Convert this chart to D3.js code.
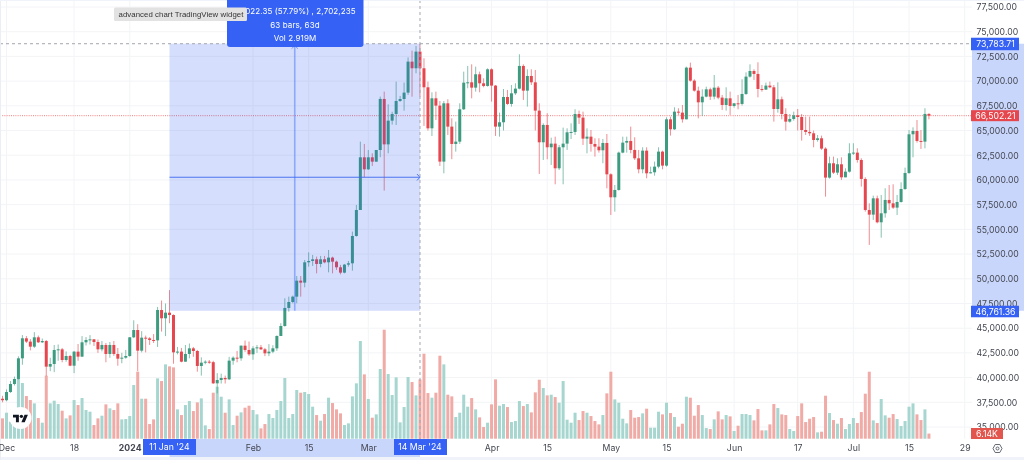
<!DOCTYPE html>
<html><head><meta charset="utf-8">
<script src="https://cdn.jsdelivr.net/npm/d3@7"></script>
<style>html,body{margin:0;padding:0;background:#fff;overflow:hidden}svg{display:block;filter:blur(.35px)}text{font-family:Inter,Roboto,sans-serif}</style>
</head><body><svg id="c" width="1024" height="460"></svg>
<script>
// Daily candles, 30 Nov 2023 onward
const firstDay = Date.UTC(2023, 10, 30);
const opens = [37860,37710,38540,39350,39860,41950,43975,43640,43130,44075,43570,43700,41105,41375,42795,42860,41780,42185,41205,42625,42120,43570,43805,43870,43600,42860,43300,42390,43300,42390,41915,42015,42185,44075,44815,42725,44040,43970,43805,43770,46840,46000,46570,46330,42555,42630,41610,42390,42960,42690,41175,41510,41610,41560,39420,39755,39960,39825,41715,42015,41950,43230,42795,42355,42960,43060,42860,42455,42625,42960,44210,45220,47045,47650,48190,49810,49610,51665,51800,51970,51500,51970,51665,52140,51730,51160,50620,51430,51565,54330,56960,62290,61075,62290,61850,63030,68195,63600,66000,66675,67990,68190,68835,71970,71300,72985,71300,69375,65225,68260,67520,61855,67755,65395,63640,63875,67150,69845,69880,69340,70690,69780,69510,71195,69545,65395,65835,68395,67690,68765,69240,71535,69035,70520,69880,67015,63810,65565,63305,63675,61180,63305,63675,64820,64855,66675,66305,64180,64380,63640,63370,63000,63740,60570,58245,58985,62765,63775,63945,63035,62190,61075,62965,60670,60775,61345,62865,61450,66135,65125,66910,66810,66135,71365,70050,69035,67855,68430,69170,68430,69340,68330,67585,68260,67485,67755,67690,68700,70455,71025,70725,69205,69140,69545,69375,67180,68160,66675,65900,66170,66540,66370,65055,64855,64720,64045,64215,63170,60235,61685,60740,61585,60265,60840,62695,62765,62020,60100,56960,56490,58140,55715,56625,57975,57635,57200,57770,59085,60705,64620,64955,63945,63875,66680];
const highs = [38150,38800,39650,40100,42150,44300,44200,43900,44600,44250,43950,43800,42000,43300,43350,43000,42650,42300,42700,43400,44200,44100,44300,43900,43850,43700,43500,43600,43700,43000,42500,42800,44100,45800,45400,44700,44250,44100,44400,47150,47800,47500,48850,46400,43100,43000,43300,43450,43100,42800,42050,41750,41780,41700,40450,40400,40200,42100,42150,42700,43250,43750,43650,43180,43300,43300,43000,43380,43270,44270,45500,48020,48190,48300,50280,50280,51900,52675,52410,52240,52310,52310,52915,52240,51835,51400,51500,51800,54770,57465,63875,63640,63030,62695,63030,68430,68936,67650,66900,69950,68500,69850,72400,73085,73560,73783,72310,69950,68870,68935,67990,67990,68160,66240,65900,67755,70960,71535,71700,71465,70960,70285,71295,71295,69610,66810,69205,69105,69610,69780,72715,71700,71195,71195,71130,67755,65730,66745,64280,64380,63540,65295,65225,65730,67150,67015,66910,65225,65055,64215,64215,64145,64650,60670,59490,62865,64380,64380,65395,64315,63035,63305,63305,61345,61855,63305,62965,66340,66405,67350,67250,67585,71465,71870,70185,69440,69170,69440,69340,70620,69510,68600,69375,68935,67755,68600,70185,70890,71700,71195,71905,69610,69845,69950,69610,69880,68430,67250,66675,66910,67180,66675,66405,66405,65000,64550,64485,63305,62360,62360,62190,62290,61180,63710,63710,63200,62190,60265,57635,58410,58410,58480,59155,59490,59560,58480,59760,61245,65055,65325,66070,65055,67250,66745];
const lows = [37500,37600,38450,39200,39800,41300,43500,42750,43000,43500,43500,40150,40650,40550,41700,41550,41600,41150,40450,41700,42080,43250,43350,43200,42500,42650,41550,42000,42200,41200,41450,41900,42100,44000,40650,42550,42550,43300,43500,43100,44650,44200,45500,41400,42350,41550,41600,41950,42100,40600,40200,41350,41400,39350,38400,39400,39400,39750,41300,41550,41700,42600,42200,41800,42500,42800,42170,42170,42470,42700,44200,45150,46670,47520,47520,48190,49135,51225,51295,50550,51160,51565,50650,50550,50890,50450,50550,51225,50820,54260,56960,60265,61010,61415,61850,62300,58920,62695,65600,65560,67900,67010,68600,68430,70790,68430,65460,65000,64450,66070,61415,60670,64550,62100,62865,63640,67080,69275,68260,68935,68870,69375,69440,67925,64450,64380,65000,67590,67420,68600,69170,68095,67420,69610,65000,60605,62020,62090,61515,59560,61010,59560,63035,64145,64550,65665,63540,62695,62865,62360,62765,61685,59155,56455,56795,58920,62695,62765,62695,62020,60670,60670,60165,60670,60435,61180,61075,61345,64485,65055,66575,65800,66135,69950,68935,66235,66475,68360,68095,68160,68160,67080,67015,66575,67320,67150,67520,68600,70355,70115,68360,68935,69105,69275,65900,66810,66135,65000,65800,66000,65000,63980,64550,64450,63305,63875,63035,58310,60130,60605,60505,60000,60265,60740,62525,61750,59325,56795,53420,55950,55610,54160,56185,56960,57065,56455,57705,58985,60605,62290,63775,63135,63200,66135];
const closes = [37710,38540,39350,39860,41950,43975,43640,43130,44075,43570,43700,41105,41375,42795,42860,41780,42185,41205,42625,42120,43570,43805,43870,43600,42860,43300,42390,43300,42390,41915,42015,42185,44075,44815,42725,44040,43970,43805,43770,46840,46000,46570,46330,42555,42630,41610,42390,42960,42690,41175,41510,41610,41560,39420,39755,39960,39825,41715,42015,41950,43230,42795,42355,42960,43060,42860,42455,42625,42960,44210,45220,47045,47650,48190,49810,49610,51665,51800,51970,51500,51970,51665,52140,51730,51160,50620,51430,51565,54330,56960,62290,61075,62290,61850,63030,68195,63600,66000,66675,67990,68190,68835,71970,71300,72985,71300,69375,65225,68260,67520,61855,67755,65395,63640,63875,67150,69845,69880,69340,70690,69780,69510,71195,69545,65395,65835,68395,67690,68765,69240,71535,69035,70520,69880,67015,63810,65565,63305,63675,61180,63305,63675,64820,64855,66675,66305,64180,64380,63640,63370,63000,63740,60570,58245,58985,62765,63775,63945,63035,62190,61075,62965,60670,60775,61345,62865,61450,66135,65125,66910,66810,66135,71365,70050,69035,67855,68430,69170,68430,69340,68330,67585,68260,67485,67755,67690,68700,70455,71025,70725,69205,69140,69545,69375,67180,68160,66675,65900,66170,66540,66370,65055,64855,64720,64045,64215,63170,60235,61685,60740,61585,60265,60840,62695,62765,62020,60100,56960,56490,58140,55715,56625,57975,57635,57200,57770,59085,60705,64620,64955,63945,63875,66680,66502];
const volumes = [24.4,31.2,20.4,28.4,71.6,66.8,51.2,46.4,42.4,24.8,19.2,75.6,42.4,45.6,41.6,33.6,24.4,28,46.4,40.4,48.8,34.4,32.4,16.4,24.4,27.6,41.2,36.4,34.4,42.4,23.2,23.6,27.2,64.4,80.4,48,48,17.6,23.2,72.4,69.2,89.2,86.8,85.6,35.2,28.4,40.4,45.2,33.2,43.6,48.4,16,11.6,55.2,62.4,50.4,31.2,47.2,16.4,27.6,31.6,37.2,39.6,34.4,29.2,12.4,17.6,29.6,24.8,34.4,45.2,72.8,24.8,29.6,58.4,55.2,56,53.6,38.4,28.4,21.6,29.6,49.2,42.8,35.2,30.4,16.4,18.4,50.8,66.4,117.2,77.2,47.6,25.2,29.2,83.6,130.8,77.6,52.4,73.6,19.6,38,74,68,52,71.2,102,54.8,49.2,55.2,99.6,89.2,52.8,50.8,26,31.2,52.8,38.4,48.8,35.2,25.6,14,19.2,41.2,71.2,39.6,41.6,38,20,21.2,45.2,39.2,41.6,31.6,55.6,70.8,60.8,52,52.8,50,43.2,69.2,22.8,19.2,31.2,22.4,33.2,31.2,27.2,21.2,17.2,28.4,54.4,80.4,47.2,43.2,24,18.4,34.4,25.2,26,30.4,36,13.2,13.2,32.4,29.2,43.2,30.8,26,14.4,18,50.4,49.2,27.6,40.4,28.4,12.8,11.6,23.2,32.8,23.2,28.4,26.8,9.2,15.6,29.6,29.6,28.4,22,35.6,10,10,17.2,41.6,36.8,29.2,28.4,11.6,9.2,27.2,42.4,20,24,26,7.6,8.4,51.6,30.8,22.4,18,24.8,11.6,17.6,24.8,18.8,32,54,80.4,22,18.8,47.6,28,25.2,29.6,23.6,15.2,21.2,38.4,42.4,29.2,22.4,35.2,6.14];

const priceTicks = [35000,37500,40000,42500,45000,47500,50000,52500,55000,57500,60000,62500,65000,67500,70000,72500,75000,77500];
const timeTickDates = ["2023-12-01","2023-12-18","2024-01-01","2024-02-01","2024-02-15","2024-03-01","2024-04-01","2024-04-15","2024-05-01","2024-05-15","2024-06-01","2024-06-17","2024-07-01","2024-07-15","2024-07-29"];
const timeTickLabels = ["Dec","18","2024","Feb","15","Mar","Apr","15","May","15","Jun","17","Jul","15","29"];
const measureStart = "2024-01-11", measureEnd = "2024-03-14";
const priceHigh = 73783.71, priceLow = 46761.36, lastPrice = 66502.21;
const measureText = ["27,022.35 (57.79%) , 2,702,235","63 bars, 63d","Vol 2.919M"];
const widgetTitle = "advanced chart TradingView widget";

const UP="#3d9b80", DOWN="#e6474f", UPV="#a6d6cf", DOWNV="#f0aba7", BLUE="#3562f5";
const day=d=>new Date(firstDay+d*864e5);
const parse=d3.utcParse("%Y-%m-%d");
const x=d3.scaleUtc().domain([parse("2023-12-01"),parse("2024-07-29")]).range([6.5,964.7]);
const y=d3.scaleLinear().domain([35000,77500]).range([427,7]);
const v=d3.scaleLinear().domain([0,132]).range([438.7,328.7]);
const svg=d3.select("#c");
const W=1024,H=460,PR=972,BT=439;
const rows=closes.map((c,i)=>({d:day(i),o:opens[i],h:highs[i],l:lows[i],c,vol:volumes[i],up:c>=opens[i]}));

svg.append("rect").attr("width",W).attr("height",H).attr("fill","#fff");
// grid
const grid=svg.append("g").attr("stroke","#f3f4f7").attr("stroke-width",1);
grid.selectAll(".gy").data(priceTicks).join("line").attr("x1",0).attr("x2",PR).attr("y1",d=>y(d)).attr("y2",d=>y(d));
grid.selectAll(".gx").data(timeTickDates).join("line").attr("y1",0).attr("y2",BT).attr("x1",d=>x(parse(d))).attr("x2",d=>x(parse(d)));
// volume
svg.append("g").selectAll("rect").data(rows).join("rect")
 .attr("x",d=>x(d.d)-1.5).attr("width",3).attr("y",d=>v(d.vol)).attr("height",d=>v(0)-v(d.vol)).attr("fill",d=>d.up?UPV:DOWNV);
// price line
svg.append("line").attr("x1",0).attr("x2",PR).attr("y1",y(lastPrice)).attr("y2",y(lastPrice)).attr("stroke","#ef5350").attr("stroke-opacity",.75).attr("stroke-dasharray","1 1.2");
// candles
const cg=svg.append("g");
cg.selectAll(".w").data(rows).join("line").attr("x1",d=>x(d.d)).attr("x2",d=>x(d.d)).attr("y1",d=>y(d.h)).attr("y2",d=>y(d.l)).attr("stroke",d=>d.up?UP:DOWN).attr("stroke-width",1).attr("stroke-opacity",.62);
cg.selectAll(".b").data(rows).join("rect").attr("x",d=>x(d.d)-1.5).attr("width",3)
 .attr("y",d=>Math.min(y(d.o),y(d.c))).attr("height",d=>Math.max(1,Math.abs(y(d.o)-y(d.c)))).attr("fill",d=>d.up?UP:DOWN);
// measure box
const mx0=x(parse(measureStart)),mx1=x(parse(measureEnd)),mxm=(mx0+mx1)/2;
const my0=y(priceHigh),my1=y(priceLow),mym=(my0+my1)/2;
svg.append("rect").attr("x",mx0).attr("y",my0).attr("width",mx1-mx0).attr("height",my1-my0).attr("fill","#2f5cf0").attr("fill-opacity",.2);
svg.append("line").attr("x1",mxm).attr("x2",mxm).attr("y1",my0).attr("y2",my1).attr("stroke","#2962ff").attr("stroke-opacity",.42).attr("stroke-width",1.6);
svg.append("line").attr("x1",mx0).attr("x2",mx1).attr("y1",mym).attr("y2",mym).attr("stroke","#3d68f0").attr("stroke-width",.9);
svg.append("path").attr("d",`M${mx1-3},${mym-3.2}L${mx1},${mym}L${mx1-3},${mym+3.2}`).attr("fill","none").attr("stroke","#3d68f0").attr("stroke-width",.9);
svg.append("path").attr("d",`M${mxm-3.2},${my0+5}L${mxm},${my0+2}L${mxm+3.2},${my0+5}`).attr("fill","none").attr("stroke","#6f8ff2").attr("stroke-width",.9);
// crosshair
svg.append("line").attr("x1",mx1).attr("x2",mx1).attr("y1",0).attr("y2",BT).attr("stroke","#a3a6af").attr("stroke-dasharray","3 3").attr("stroke-width",1);
svg.append("line").attr("x1",0).attr("x2",PR).attr("y1",my0).attr("y2",my0).attr("stroke","#a3a6af").attr("stroke-dasharray","3 3").attr("stroke-width",1);
// right panel
svg.append("rect").attr("x",PR).attr("y",0).attr("width",W-PR).attr("height",BT).attr("fill","#fff");
svg.append("rect").attr("x",PR).attr("y",my0).attr("width",W-PR).attr("height",my1-my0).attr("fill","#c9d6fb");
svg.append("rect").attr("x",0).attr("y",BT).attr("width",W).attr("height",H-BT).attr("fill","#fff");
svg.append("rect").attr("x",mx0).attr("y",BT).attr("width",mx1-mx0).attr("height",18).attr("fill","#c9d6fb");
// strips
svg.append("rect").attr("x",0).attr("y",457).attr("width",W).attr("height",3).attr("fill","#f0f3fa");
svg.append("rect").attr("x",0).attr("y",0).attr("width",1).attr("height",H).attr("fill","#eceef6");
svg.append("rect").attr("x",0).attr("y",0).attr("width",W).attr("height",1).attr("fill","#f0f3fa");
// axes
const ya=d3.axisRight(y).tickValues(priceTicks).tickSize(0).tickPadding(0).tickFormat(d3.format(",.2f"));
const yg=svg.append("g").attr("transform",`translate(976.5,0)`).call(ya);
yg.select(".domain").remove();
yg.selectAll("text").attr("font-size",8.7).attr("fill","#434651").style("font-family","Inter");
const xa=d3.axisBottom(x).tickValues(timeTickDates.map(parse)).tickSize(0).tickPadding(0).tickFormat((d,i)=>timeTickLabels[i]);
const xg=svg.append("g").attr("transform",`translate(0,445)`).call(xa);
xg.select(".domain").remove();
xg.selectAll("text").attr("font-size",8.7).attr("fill","#434651").attr("font-weight",(d,i)=>timeTickLabels[i]==="2024"?700:400).style("font-family","Inter").attr("letter-spacing",.1);
// labels
function label(x0,y0,w,h,fill,txt,tx){svg.append("rect").attr("x",x0).attr("y",y0).attr("width",w).attr("height",h).attr("fill",fill);
 svg.append("text").attr("x",tx).attr("y",y0+h/2).attr("dy",".36em").attr("text-anchor","middle").attr("font-size",8.7).attr("fill","#fff").text(txt);}
const fmtP=d3.format(",.2f");
label(971,y(priceHigh)-6,48,12.5,BLUE,fmtP(priceHigh),995.5);
label(971,y(priceLow)-5,48,11.5,BLUE,fmtP(priceLow),995.5);
label(971,y(lastPrice)-5.5,48,11,"#e6474f",fmtP(lastPrice),995.5);
label(971,428,32,11,"#e2564e",volumes[volumes.length-1]+"K",987);
label(143,439,53,16,BLUE,"11 Jan '24",mx0);
label(394,439,53,16,BLUE,"14 Mar '24",mx1);
// tooltip
svg.append("path").attr("d","M227,0H363.5V44a3,3 0 0 1 -3,3H230a3,3 0 0 1 -3,-3Z").attr("fill",BLUE);
measureText.forEach((t,i)=>svg.append("text").attr("x",295).attr("y",[14,27.5,41][i]).attr("text-anchor","middle").attr("font-size",8).attr("fill","#fff").attr("letter-spacing",.1).text(t));
svg.append("rect").attr("x",114).attr("y",7.5).attr("width",133).attr("height",13.5).attr("rx",1.5).attr("fill","#e2e2e2");
svg.append("text").attr("x",118.5).attr("y",17).attr("font-size",7.8).attr("fill","#333").style("font-family","'Liberation Sans'").attr("letter-spacing",.06).text(widgetTitle);
// logo
const lg=svg.append("g");
lg.append("circle").attr("cx",20.5).attr("cy",418).attr("r",11).attr("fill","#fff");
const lz=lg.append("g").attr("transform","translate(13,413) scale(.42)").attr("fill","#131722");
lz.append("path").attr("d","M14 22H7V11H0V4h14v18zM28 22h-8l7.5-18h8L28 22z");
lz.append("circle").attr("cx",20).attr("cy",8).attr("r",4);
// settings
svg.append("path").attr("d","M993,448.5L995.2,444.5H999.8L1002,448.5L999.8,452.5H995.2Z").attr("fill","none").attr("stroke","#555a66").attr("stroke-width",.9);
svg.append("circle").attr("cx",997.5).attr("cy",448.5).attr("r",1.5).attr("fill","none").attr("stroke","#555a66").attr("stroke-width",.9);
</script></body></html>
